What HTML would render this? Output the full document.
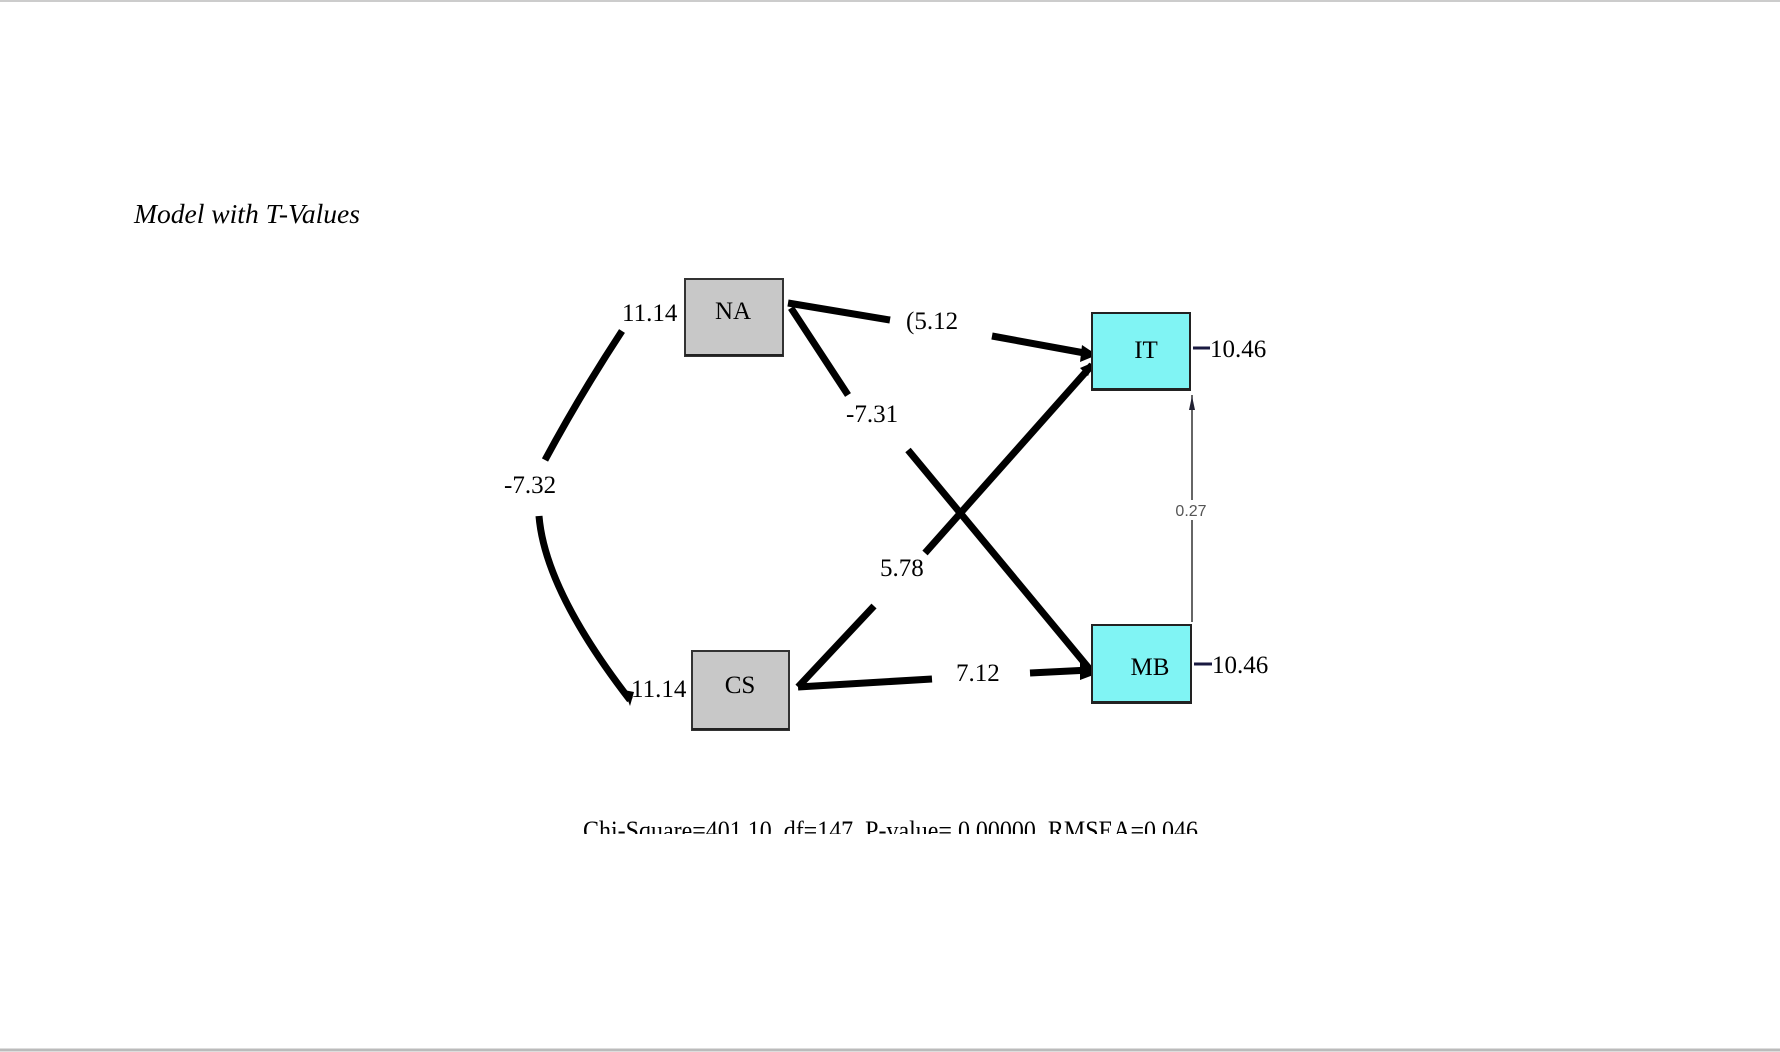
<!DOCTYPE html>
<html><head><meta charset="utf-8"><style>
html,body{margin:0;padding:0;background:#fff;}
svg{display:block;}
</style></head><body>
<svg width="1780" height="1052" viewBox="0 0 1780 1052" xmlns="http://www.w3.org/2000/svg" font-family="Liberation Serif, serif">
<rect x="0" y="0" width="1780" height="1052" fill="#fff"/>
<line x1="0" y1="1" x2="1780" y2="1" stroke="#ccc" stroke-width="2"/>
<line x1="0" y1="1050" x2="1780" y2="1050" stroke="#bbb" stroke-width="3"/>
<text x="134" y="223" font-size="27" font-style="italic" textLength="226" lengthAdjust="spacingAndGlyphs">Model with T-Values</text>

<g stroke="#000" stroke-width="7" fill="none" stroke-linecap="butt">
<path d="M622,331 Q580,395 545,460"/>
<path d="M539,516 Q545,590 630,700"/>
<line x1="788" y1="303" x2="890" y2="320"/>
<line x1="992" y1="336" x2="1090" y2="354"/>
<line x1="791" y1="308" x2="848" y2="395"/>
<line x1="908" y1="450" x2="1092" y2="672"/>
<line x1="798" y1="687" x2="874" y2="606"/>
<line x1="925" y1="553" x2="1092" y2="365"/>
<line x1="798" y1="687" x2="932" y2="679"/>
<line x1="1030" y1="673" x2="1090" y2="670"/>
</g>
<g fill="#000">
<polygon points="1097,355 1082,345 1080,362"/>
<polygon points="1096,674 1080,665 1080,680"/>
<polygon points="1094,362 1080,368 1088,376"/>
<polygon points="1094,670 1080,662 1080,680"/>
<polygon points="630,706 624,690 634,692"/>
</g>
<line x1="1192" y1="395" x2="1192" y2="622" stroke="#333" stroke-width="1.5"/>
<rect x="1170" y="500" width="44" height="20" fill="#fff"/>
<polygon points="1192,396 1189,410 1195,410" fill="#223"/>
<g stroke="#1a1a40" stroke-width="3"><line x1="1193" y1="348" x2="1210" y2="348"/><line x1="1194" y1="664" x2="1212" y2="664"/></g>

<rect x="685" y="279" width="98" height="77" fill="#c8c8c8" stroke="#333" stroke-width="2"/>
<rect x="692" y="651" width="97" height="79" fill="#c8c8c8" stroke="#333" stroke-width="2"/>
<rect x="1092" y="313" width="98" height="77" fill="#80f4f4" stroke="#222" stroke-width="2"/>
<rect x="1092" y="625" width="99" height="78" fill="#80f4f4" stroke="#222" stroke-width="2"/>
<g stroke="#222" stroke-width="2"><line x1="685" y1="355" x2="783" y2="355"/><line x1="692" y1="729" x2="789" y2="729"/><line x1="1092" y1="389" x2="1190" y2="389"/><line x1="1092" y1="702" x2="1191" y2="702"/></g>

<g font-size="25" text-anchor="middle">
<text x="733" y="319">NA</text>
<text x="740" y="693">CS</text>
<text x="1146" y="358">IT</text>
<text x="1150" y="675">MB</text>
</g>
<g font-size="25">
<text x="622" y="321">11.14</text>
<text x="631" y="697">11.14</text>
<text x="1210" y="357">10.46</text>
<text x="1212" y="673">10.46</text>
<text x="906" y="329">(5.12</text>
<text x="846" y="422">-7.31</text>
<text x="880" y="576">5.78</text>
<text x="956" y="681">7.12</text>
<text x="504" y="493">-7.32</text>
</g>
<text x="1191" y="516" font-size="16" fill="#555" text-anchor="middle" font-family="Liberation Sans, sans-serif">0.27</text>
<svg x="0" y="0" width="1780" height="834" overflow="hidden">
<text x="583" y="839" font-size="26" textLength="615" lengthAdjust="spacingAndGlyphs">Chi-Square=401.10, df=147, P-value= 0.00000, RMSEA=0.046</text>
</svg>
</svg>
</body></html>
